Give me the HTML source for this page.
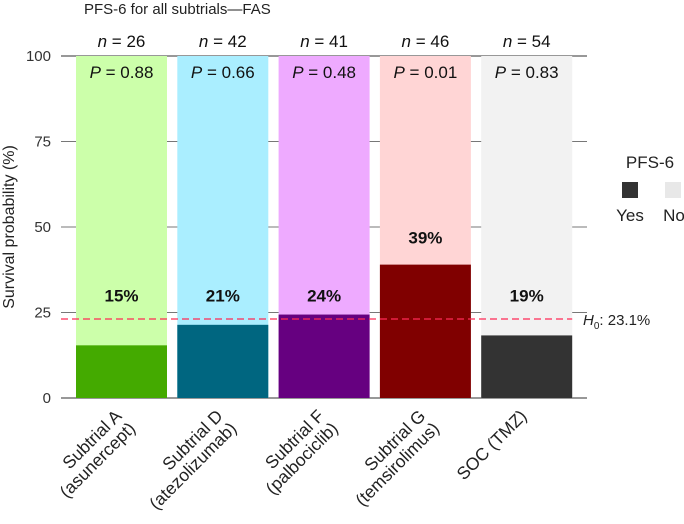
<!DOCTYPE html>
<html><head><meta charset="utf-8"><style>
body{margin:0;background:#fff;}
svg text{font-family:"Liberation Sans",sans-serif;}
</style></head><body>
<svg id="chart" width="684" height="519" viewBox="0 0 684 519" xmlns="http://www.w3.org/2000/svg">
<text x="84" y="14" font-size="15" fill="#222">PFS-6 for all subtrials—FAS</text>
<text transform="translate(14,227) rotate(-90)" text-anchor="middle" font-size="16" fill="#222">Survival probability (%)</text>
<g id="plot"></g>
<g>
<text x="650" y="168" font-size="17" text-anchor="middle" fill="#222">PFS-6</text>
<rect x="622" y="182" width="16" height="16" fill="#333"/>
<rect x="665" y="182" width="16" height="16" fill="#e8e8e8"/>
<text x="630" y="221" font-size="17" text-anchor="middle" fill="#222">Yes</text>
<text x="674" y="221" font-size="17" text-anchor="middle" fill="#222">No</text>
</g>
</svg>
<script>
const categories=["Subtrial A|(asunercept)","Subtrial D|(atezolizumab)","Subtrial F|(palbociclib)","Subtrial G|(temsirolimus)","SOC (TMZ)"];
const yesValues=[15.4,21.4,24.4,39,18.3];
const nValues=["26","42","41","46","54"];
const pValues=["0.88","0.66","0.48","0.01","0.83"];
const pctLabels=["15%","21%","24%","39%","19%"];
const yTicks=[0,25,50,75,100];
const h0=23.1;
const lightColors=["#ccffaa","#aaeeff","#eeaaff","#ffd5d5","#f2f2f2"];
const darkColors=["#44aa00","#006680","#660080","#800000","#333333"];
const NS="http://www.w3.org/2000/svg";
const g=document.getElementById('plot');
const x0=61,x1=587,y0=398,y100=56,pitch=101.3,bw=91,first=76;
const y=v=>y0-(v/100)*(y0-y100);
const bx=i=>first+i*pitch;
function mk(t,a,txt){const e=document.createElementNS(NS,t);for(const k in a)e.setAttribute(k,a[k]);if(txt!==undefined)e.textContent=txt;g.appendChild(e);return e;}
yTicks.forEach(t=>{
 const l=mk('line',{x1:x0,x2:x1,y1:y(t),y2:y(t),stroke:'#777','stroke-width':t===0||t===100?1.5:1});
 
 
 const tx=mk('text',{x:51,y:y(t)+5,'text-anchor':'end','font-size':15,fill:'#333'},String(t));
 
 
});
categories.forEach((c,i)=>{
 const r1=mk('rect',{x:bx(i),y:y(100),width:bw,height:y(0)-y(100),fill:lightColors[i]});
 
 
 const r2=mk('rect',{x:bx(i),y:y(yesValues[i]),width:bw,height:y(0)-y(yesValues[i]),fill:darkColors[i]});
 
 
 const cx=bx(i)+bw/2;
 const n=mk('text',{x:cx,y:47,'text-anchor':'middle','font-size':17,fill:'#111'});
 n.innerHTML='<tspan font-style="italic">n</tspan> = '+nValues[i];
 
 
 const p=mk('text',{x:cx,y:78,'text-anchor':'middle','font-size':17,fill:'#111'});
 p.innerHTML='<tspan font-style="italic">P</tspan> = '+pValues[i];
 
 
 const lv=yesValues[i]>30?yesValues[i]+8:30;
 const pl=mk('text',{x:cx,y:y(lv)+6,'text-anchor':'middle','font-size':17,'font-weight':'bold',fill:'#111'},pctLabels[i]);
 
 
 const parts=c.split('|');
 const t=mk('text',{transform:`translate(${cx-6},${410}) rotate(-45)`,'text-anchor':'end','font-size':17.5,fill:'#222'});
 parts.forEach((s,k)=>{const ts=document.createElementNS(NS,'tspan');ts.setAttribute('x',k===0?0:1);ts.setAttribute('dy',k===0?10:18.5);ts.textContent=s;t.appendChild(ts);});
 
 
});
const hl=mk('line',{x1:x0,x2:bx(4)+bw,y1:y(h0),y2:y(h0),stroke:'#ff2a55','stroke-width':1.3,'stroke-dasharray':'7,4'});


const ht=mk('text',{x:583,y:y(h0)+6,'font-size':15,fill:'#222'});
ht.innerHTML='<tspan font-style="italic">H</tspan><tspan font-size="10" dy="4">0</tspan><tspan dy="-4">: '+h0+'%</tspan>';


</script>
</body></html>
